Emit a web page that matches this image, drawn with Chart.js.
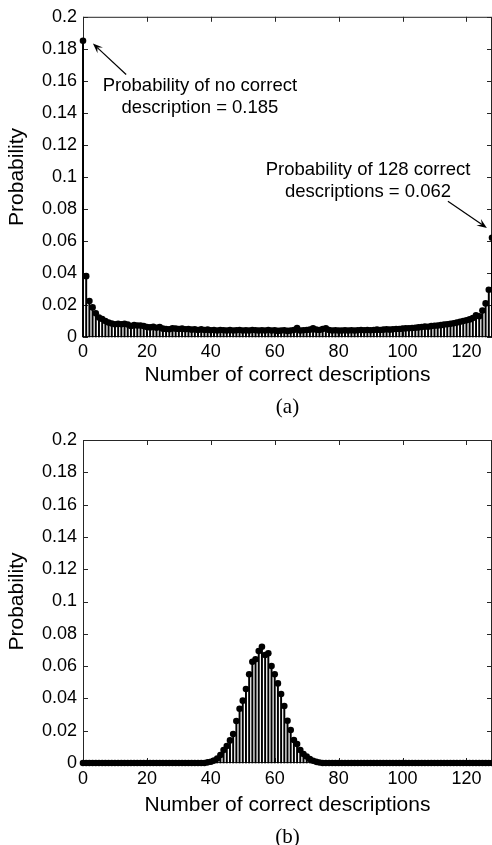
<!DOCTYPE html>
<html>
<head>
<meta charset="utf-8">
<script src="https://cdn.jsdelivr.net/npm/chart.js@4.4.0/dist/chart.umd.min.js"></script>
<style>
  body { margin: 0; background: #fff; }
  .panel { position: relative; width: 492px; }
</style>
</head>
<body>
<div class="panel" style="height:423px"><canvas id="chartA"></canvas></div>
<div class="panel" style="height:422px"><canvas id="chartB"></canvas></div>
<script>
// number of correct descriptions, 0..128
const counts = [];
for (let i = 0; i <= 128; i++) counts.push(i);

// (a) probability of each count
const probA = [
    0.185, 0.038, 0.0225, 0.0185, 0.0148, 0.0122, 0.0112, 0.0100, 0.0090, 0.0084,
    0.0080, 0.0082, 0.0080, 0.0082, 0.0078, 0.0068, 0.0074, 0.0072, 0.0072, 0.0068,
    0.0062, 0.0060, 0.0064, 0.0058, 0.0062, 0.0052, 0.0050, 0.0048, 0.0054, 0.0052,
    0.0050, 0.0052, 0.0048, 0.0050, 0.0046, 0.0048, 0.0044, 0.0048, 0.0044, 0.0046,
    0.0042, 0.0044, 0.0040, 0.0044, 0.0042, 0.0040, 0.0044, 0.0040, 0.0042, 0.0044,
    0.0040, 0.0042, 0.0040, 0.0044, 0.0042, 0.0040, 0.0042, 0.0040, 0.0044, 0.0040,
    0.0042, 0.0038, 0.0040, 0.0042, 0.0038, 0.0040, 0.0044, 0.0056, 0.0040, 0.0042,
    0.0044, 0.0046, 0.0054, 0.0046, 0.0044, 0.0050, 0.0054, 0.0044, 0.0040, 0.0042,
    0.0040, 0.0040, 0.0042, 0.0040, 0.0042, 0.0040, 0.0042, 0.0044, 0.0042, 0.0044,
    0.0042, 0.0044, 0.0046, 0.0044, 0.0046, 0.0048, 0.0046, 0.0048, 0.0050, 0.0050,
    0.0052, 0.0054, 0.0054, 0.0056, 0.0058, 0.0060, 0.0062, 0.0066, 0.0064, 0.0068,
    0.0070, 0.0072, 0.0074, 0.0078, 0.0080, 0.0082, 0.0086, 0.0090, 0.0095, 0.0100,
    0.0105, 0.0110, 0.0118, 0.0136, 0.0130, 0.0165, 0.0210, 0.0295, 0.0620
];

// (b) probability of each count
const probB = [
    0, 0, 0, 0, 0, 0, 0, 0, 0, 0,
    0, 0, 0, 0, 0, 0, 0, 0, 0, 0,
    0, 0, 0, 0, 0, 0, 0, 0, 0, 0,
    0, 0, 0, 0, 0, 0, 0, 0, 0, 0.0004,
    0.0008, 0.0015, 0.0028, 0.0050, 0.0080, 0.0105, 0.0140, 0.0180, 0.0260, 0.0336,
    0.0386, 0.0458, 0.0550, 0.0627, 0.0642, 0.0693, 0.0720, 0.0669, 0.0679, 0.0600,
    0.0550, 0.0493, 0.0427, 0.0353, 0.0262, 0.0204, 0.0142, 0.0118, 0.0080, 0.0056,
    0.0040, 0.0025, 0.0014, 0.0007, 0.0003, 0, 0, 0, 0, 0,
    0, 0, 0, 0, 0, 0, 0, 0, 0, 0,
    0, 0, 0, 0, 0, 0, 0, 0, 0, 0,
    0, 0, 0, 0, 0, 0, 0, 0, 0, 0,
    0, 0, 0, 0, 0, 0, 0, 0, 0, 0,
    0, 0, 0, 0, 0, 0, 0, 0, 0
];

const xTicks = [0, 20, 40, 60, 80, 100, 120];
const noteNone = ['Probability of no correct', 'description = 0.185'];
const noteAll = ['Probability of 128 correct', 'descriptions = 0.062'];

Chart.defaults.font.family = '"Liberation Sans", Arial, sans-serif';
Chart.defaults.color = '#000';

const tickFont = { size: 18 };
const titleFont = { size: 21 };

// matlab style box, ticks inside, annotations
const matlabPlugin = {
    id: 'matlab',
    beforeDatasetsDraw(chart) {
        const { ctx, chartArea: a, scales: { x, y } } = chart;
        ctx.save();
        ctx.strokeStyle = '#262626';
        ctx.lineWidth = 1;
        ctx.strokeRect(a.left + 0.5, a.top + 0.5, a.right - a.left - 1, a.bottom - a.top - 1);
        ctx.beginPath();
        x.ticks.forEach(t => {
            let px = Math.round(x.getPixelForValue(t.value)) + 0.5;
            ctx.moveTo(px, a.bottom); ctx.lineTo(px, a.bottom - 5);
            ctx.moveTo(px, a.top); ctx.lineTo(px, a.top + 5);
        });
        y.ticks.forEach(t => {
            let py = Math.round(y.getPixelForValue(t.value)) + 0.5;
            ctx.moveTo(a.left, py); ctx.lineTo(a.left + 5, py);
            ctx.moveTo(a.right, py); ctx.lineTo(a.right - 5, py);
        });
        ctx.stroke();
        ctx.restore();
    },
    afterDraw(chart, args, opts) {
        const { ctx, chartArea: a, scales: { x, y } } = chart;
        ctx.save();
        ctx.fillStyle = '#000';
        ctx.strokeStyle = '#000';
        // panel label
        ctx.font = '21px "Liberation Serif", "Times New Roman", serif';
        ctx.textAlign = 'center';
        ctx.textBaseline = 'middle';
        ctx.fillText(opts.panel, (a.left + a.right) / 2, a.bottom + opts.panelOffset);
        // notes with arrows
        ctx.font = '18.5px "Liberation Sans", Arial, sans-serif';
        (opts.notes || []).forEach(n => {
            let tx = x.getPixelForValue(n.at[0]);
            let ty = y.getPixelForValue(n.at[1]);
            n.lines.forEach((s, i) => ctx.fillText(s, tx, ty + i * 22));
            let x0 = x.getPixelForValue(n.tail[0]), y0 = y.getPixelForValue(n.tail[1]);
            let x1 = x.getPixelForValue(n.head[0]), y1 = y.getPixelForValue(n.head[1]);
            let len = Math.hypot(x1 - x0, y1 - y0);
            let dx = (x1 - x0) / len, dy = (y1 - y0) / len;
            let L = 10, w = 4;
            ctx.lineWidth = 1.2;
            ctx.beginPath();
            ctx.moveTo(x0, y0);
            ctx.lineTo(x1 - dx * L * 0.6, y1 - dy * L * 0.6);
            ctx.stroke();
            ctx.beginPath();
            ctx.moveTo(x1, y1);
            ctx.lineTo(x1 - dx * L - dy * w, y1 - dy * L + dx * w);
            ctx.lineTo(x1 - dx * L * 0.6, y1 - dy * L * 0.6);
            ctx.lineTo(x1 - dx * L + dy * w, y1 - dy * L - dx * w);
            ctx.closePath();
            ctx.fill();
        });
        ctx.restore();
    }
};

function buildChart(id, values, panel, lay) {
    const points = counts.map((c, i) => ({ x: c, y: values[i] }));
    return new Chart(id, {
        type: 'bar',
        data: {
            datasets: [
                {
                    type: 'line', data: points, showLine: false, order: 0, clip: false,
                    pointRadius: 3.3, pointBorderWidth: 0, pointBackgroundColor: '#000'
                },
                {
                    type: 'bar', data: points, order: 1, clip: false,
                    backgroundColor: '#000', barThickness: 1.3
                }
            ]
        },
        options: {
            responsive: true,
            maintainAspectRatio: false,
            animation: false,
            layout: { autoPadding: false, padding: { top: lay.top, left: 0, right: 0, bottom: 0 } },
            plugins: {
                legend: { display: false },
                tooltip: { enabled: false },
                matlab: { panel: panel, panelOffset: lay.panelOffset, notes: lay.notes }
            },
            scales: {
                x: {
                    type: 'linear', min: 0, max: 128, offset: false,
                    grid: { display: false, drawTicks: false },
                    border: { display: false },
                    ticks: { stepSize: 20, font: tickFont, padding: lay.tickPad, maxRotation: 0, autoSkip: false },
                    afterBuildTicks: s => { s.ticks = xTicks.map(v => ({ value: v })); },
                    afterFit: s => { s.height = lay.xHeight; },
                    title: {
                        display: true, text: 'Number of correct descriptions', font: titleFont,
                        padding: { top: 0, bottom: lay.titlePad }
                    }
                },
                y: {
                    min: 0, max: 0.2,
                    grid: { display: false, drawTicks: false },
                    border: { display: false },
                    ticks: { stepSize: 0.02, font: tickFont, padding: 6, callback: v => String(+v.toFixed(2)) },
                    afterFit: s => { s.width = 83; },
                    title: { display: true, text: 'Probability', font: titleFont, padding: { top: 5, bottom: 0 } }
                }
            }
        },
        plugins: [matlabPlugin]
    });
}

buildChart('chartA', probA, '(a)', {
    top: 14, xHeight: 86, titlePad: 35, tickPad: 4, panelOffset: 70,
    notes: [
        { lines: noteNone, at: [36.6, 0.157], tail: [13.5, 0.164], head: [3.1, 0.1833] },
        { lines: noteAll, at: [89.2, 0.1046], tail: [114.2, 0.0848], head: [126.4, 0.0681] }
    ]
});

buildChart('chartB', probB, '(b)', {
    top: 17, xHeight: 82, titlePad: 27, tickPad: 5, panelOffset: 74
});
</script>
</body>
</html>
